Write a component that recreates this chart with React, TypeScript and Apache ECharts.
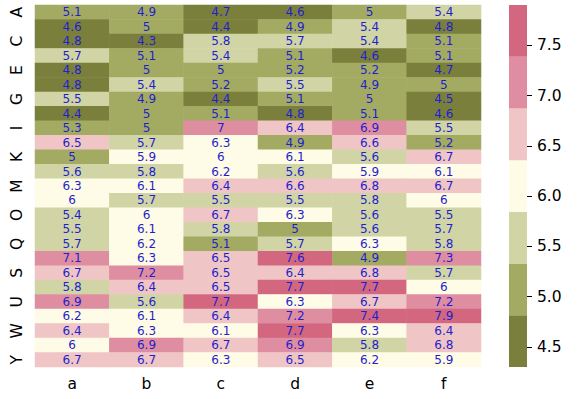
import React, { useEffect, useRef } from "react";
import * as echarts from "echarts";

const columns = ["a", "b", "c", "d", "e", "f"];
const rows = ["A","B","C","D","E","F","G","H","I","J","K","L","M","N","O","P","Q","R","S","T","U","V","W","X","Y"];
const values: number[][] = [
  [5.1, 4.9, 4.7, 4.6, 5, 5.4],
  [4.6, 5, 4.4, 4.9, 5.4, 4.8],
  [4.8, 4.3, 5.8, 5.7, 5.4, 5.1],
  [5.7, 5.1, 5.4, 5.1, 4.6, 5.1],
  [4.8, 5, 5, 5.2, 5.2, 4.7],
  [4.8, 5.4, 5.2, 5.5, 4.9, 5],
  [5.5, 4.9, 4.4, 5.1, 5, 4.5],
  [4.4, 5, 5.1, 4.8, 5.1, 4.6],
  [5.3, 5, 7, 6.4, 6.9, 5.5],
  [6.5, 5.7, 6.3, 4.9, 6.6, 5.2],
  [5, 5.9, 6, 6.1, 5.6, 6.7],
  [5.6, 5.8, 6.2, 5.6, 5.9, 6.1],
  [6.3, 6.1, 6.4, 6.6, 6.8, 6.7],
  [6, 5.7, 5.5, 5.5, 5.8, 6],
  [5.4, 6, 6.7, 6.3, 5.6, 5.5],
  [5.5, 6.1, 5.8, 5, 5.6, 5.7],
  [5.7, 6.2, 5.1, 5.7, 6.3, 5.8],
  [7.1, 6.3, 6.5, 7.6, 4.9, 7.3],
  [6.7, 7.2, 6.5, 6.4, 6.8, 5.7],
  [5.8, 6.4, 6.5, 7.7, 7.7, 6],
  [6.9, 5.6, 7.7, 6.3, 6.7, 7.2],
  [6.2, 6.1, 6.4, 7.2, 7.4, 7.9],
  [6.4, 6.3, 6.1, 7.7, 6.3, 6.4],
  [6, 6.9, 6.7, 6.9, 5.8, 6.8],
  [6.7, 6.7, 6.3, 6.5, 6.2, 5.9],
];
const colorMin = 4.3;
const colorMax = 7.9;
const colorbarTicks = [4.5, 5.0, 5.5, 6.0, 6.5, 7.0, 7.5];
const palette = ["#7a7f3b", "#a3ab62", "#d1d5a5", "#fefbe6", "#efc5c5", "#df8da1", "#d36780"];

export default function App() {
  const ref = useRef<HTMLDivElement>(null);
  useEffect(() => {
    document.body.style.margin = "0";
    const chart = echarts.init(ref.current!, null, { renderer: "svg" });
    const n = palette.length;
    const step = (colorMax - colorMin) / n;
    const edges = palette.map((_, k) => colorMin + k * step);
    const pieces = palette.map((c, k) => ({
      gte: k === 0 ? -1000 : edges[k],
      lt: k === n - 1 ? 1000 : edges[k] + step,
      color: c,
    }));
    const heatData: number[][] = [];
    values.forEach((row, r) => row.forEach((v, c) => heatData.push([c, r, v])));
    const barData = palette.map((_, k) => [0, edges[k], edges[k] + step]);
    const font = "DejaVu Sans";
    chart.setOption({
      animation: false,
      textStyle: { fontFamily: font },
      grid: [
        { left: 35, top: 5, width: 446, height: 362 },
        { left: 509, top: 5, width: 18, height: 362 },
      ],
      xAxis: [
        {
          type: "category",
          gridIndex: 0,
          data: columns,
          axisLine: { show: false },
          axisTick: { alignWithLabel: true, length: 5, lineStyle: { color: "#000" } },
          axisLabel: { color: "#000", fontSize: 15.5, margin: 9, fontFamily: font },
          splitArea: { show: false },
        },
        {
          type: "category",
          gridIndex: 1,
          data: [""],
          show: false,
        },
      ],
      yAxis: [
        {
          type: "category",
          gridIndex: 0,
          data: rows,
          inverse: true,
          axisLine: { show: false },
          axisTick: { alignWithLabel: true, length: 5, interval: 1, lineStyle: { color: "#000" } },
          axisLabel: { color: "#000", fontSize: 15.5, rotate: 90, interval: 1, margin: 10, fontFamily: font },
          splitArea: { show: false },
        },
        {
          type: "value",
          gridIndex: 1,
          position: "right",
          min: colorMin,
          max: colorMax,
          axisLine: { show: false },
          splitLine: { show: false },
          axisTick: { show: true, length: 5, customValues: colorbarTicks, lineStyle: { color: "#000" } },
          axisLabel: {
            color: "#000",
            fontSize: 15.5,
            margin: 10,
            fontFamily: font,
            customValues: colorbarTicks,
            formatter: (v: number) => v.toFixed(1),
          },
        },
      ],
      visualMap: {
        type: "piecewise",
        show: false,
        seriesIndex: 0,
        dimension: 2,
        pieces,
      },
      series: [
        {
          type: "heatmap",
          xAxisIndex: 0,
          yAxisIndex: 0,
          data: heatData,
          label: {
            show: true,
            color: "#1f1fcc",
            fontSize: 12,
            fontFamily: font,
            formatter: (p: any) => String(p.value[2]),
          },
          emphasis: { disabled: true },
        },
        {
          type: "custom",
          xAxisIndex: 1,
          yAxisIndex: 1,
          data: barData,
          encode: { x: 0, y: [1, 2] },
          renderItem: (params: any, api: any) => {
            const lo = api.coord([0, api.value(1)]);
            const hi = api.coord([0, api.value(2)]);
            const w = api.size([1, 0])[0];
            return {
              type: "rect",
              shape: { x: hi[0] - w / 2, y: hi[1], width: w, height: lo[1] - hi[1] },
              style: { fill: palette[params.dataIndex] },
            };
          },
        },
      ],
    });
    return () => chart.dispose();
  }, []);
  return <div ref={ref} style={{ width: 588, height: 399 }} />;
}
